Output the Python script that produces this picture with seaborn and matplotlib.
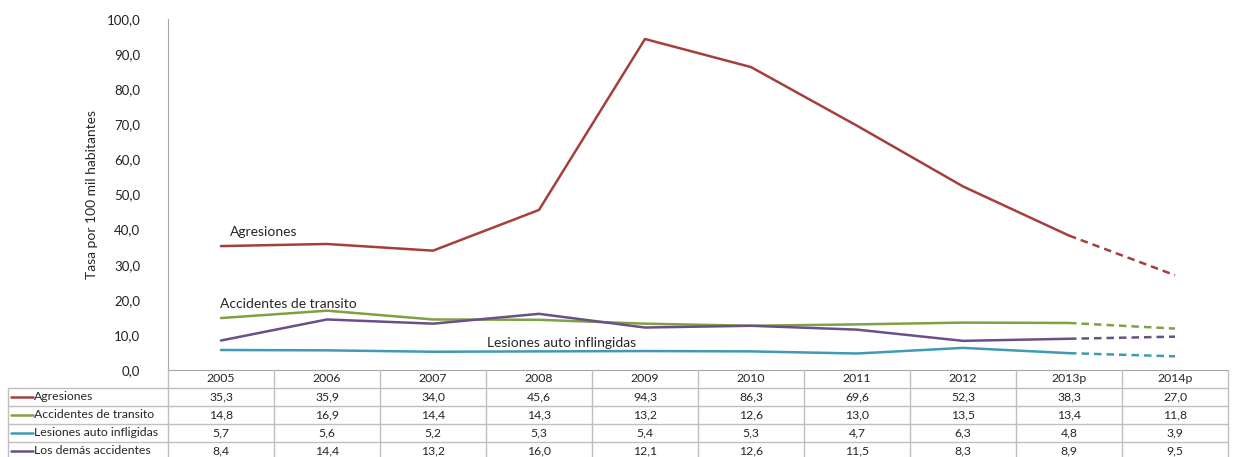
import numpy as np
import pandas as pd
import seaborn as sns
import matplotlib.pyplot as plt
from matplotlib.lines import Line2D

anios = ["2005", "2006", "2007", "2008", "2009", "2010", "2011", "2012", "2013p", "2014p"]
agresiones = [35.3, 35.9, 34.0, 45.6, 94.3, 86.3, 69.6, 52.3, 38.3, 27.0]
accidentes_transito = [14.8, 16.9, 14.4, 14.3, 13.2, 12.6, 13.0, 13.5, 13.4, 11.8]
lesiones_auto = [5.7, 5.6, 5.2, 5.3, 5.4, 5.3, 4.7, 6.3, 4.8, 3.9]
demas_accidentes = [8.4, 14.4, 13.2, 16.0, 12.1, 12.6, 11.5, 8.3, 8.9, 9.5]

series = ["Agresiones", "Accidentes de transito", "Lesiones auto infligidas", "Los demás accidentes"]
valores = [agresiones, accidentes_transito, lesiones_auto, demas_accidentes]
colores = ["#A3403D", "#80A043", "#3F9AB2", "#6A5089"]

sns.set_style("white")
plt.rcParams['font.family'] = ['Lato', 'DejaVu Sans']

fig = plt.figure(figsize=(12.4, 4.57), dpi=100)
W, H = 1240, 457
x0, x1, y0, y1 = 168, 1228, 370, 19
ax = fig.add_axes([x0 / W, 1 - y0 / H, (x1 - x0) / W, (y0 - y1) / H])

# construir tabla larga
filas = []
for nombre, vals in zip(series, valores):
    for i, v in enumerate(vals):
        filas.append({"serie": nombre, "pos": i, "valor": v})
df = pd.DataFrame(filas)

paleta = dict(zip(series, colores))
solido = df[df["pos"] <= 8]
proyectado = df[df["pos"] >= 8]
sns.lineplot(data=solido, x="pos", y="valor", hue="serie", palette=paleta, linewidth=1.8,
             legend=False, ax=ax)
sns.lineplot(data=proyectado, x="pos", y="valor", hue="serie", palette=paleta, linewidth=1.8,
             linestyle=(0, (3, 2)), legend=False, ax=ax)

ax.set_xlim(-0.5, 9.5)
ax.set_ylim(0, 100)
ax.set_yticks(np.arange(0, 101, 10))
ax.set_yticklabels([f"{t:.1f}".replace(".", ",") for t in np.arange(0, 101, 10)], fontsize=9.5, color="#222222")
ax.set_xticks(np.arange(-0.5, 10, 1))
ax.set_xticklabels([])
ax.tick_params(axis="x", length=3, color="#A0A0A0", direction="in")
ax.tick_params(axis="y", length=0, pad=20)
ax.set_xlabel("")
ax.set_ylabel("Tasa por 100 mil habitantes", fontsize=10, labelpad=6)
for s in ["top", "right"]:
    ax.spines[s].set_visible(False)
ax.spines["left"].set_color("#A6A6A6")
ax.spines["bottom"].set_color("#A6A6A6")

ax.text(0.08, 39.2, "Agresiones", fontsize=10, va="center")
ax.text(-0.01, 18.7, "Accidentes de transito", fontsize=10, va="center")
ax.text(2.51, 7.8, "Lesiones auto inflingidas", fontsize=10, va="center")

# tabla de datos
tab = fig.add_axes([0, 0, 1, 1])
tab.set_xlim(0, W)
tab.set_ylim(H, 0)
tab.axis("off")
gris = "#BFBFBF"
col_w = (x1 - x0) / 10
fila_h = 18
y_head = y0
lineas_h = [y_head + fila_h * k for k in range(1, 6)]
for yy in lineas_h:
    tab.add_line(Line2D([8, x1], [yy, yy], color=gris, lw=1))
tab.add_line(Line2D([8, 8], [lineas_h[0], H], color=gris, lw=1))
for k in range(11):
    xx = x0 + col_w * k
    tab.add_line(Line2D([xx, xx], [y_head, H], color=gris, lw=1))

for i, a in enumerate(anios):
    tab.text(x0 + col_w * (i + 0.5), y_head + fila_h / 2, a, fontsize=8.8, ha="center", va="center")

for r, (nombre, vals, c) in enumerate(zip(series, valores, colores)):
    yc = y_head + fila_h * (r + 1.5)
    tab.add_line(Line2D([11, 33], [yc, yc], color=c, lw=1.8))
    tab.text(34, yc, nombre, fontsize=8.8, ha="left", va="center")
    for i, v in enumerate(vals):
        tab.text(x0 + col_w * (i + 0.5), yc, f"{v:.1f}".replace(".", ","), fontsize=8.8,
                 ha="center", va="center")

fig.savefig("out.png", dpi=100)
